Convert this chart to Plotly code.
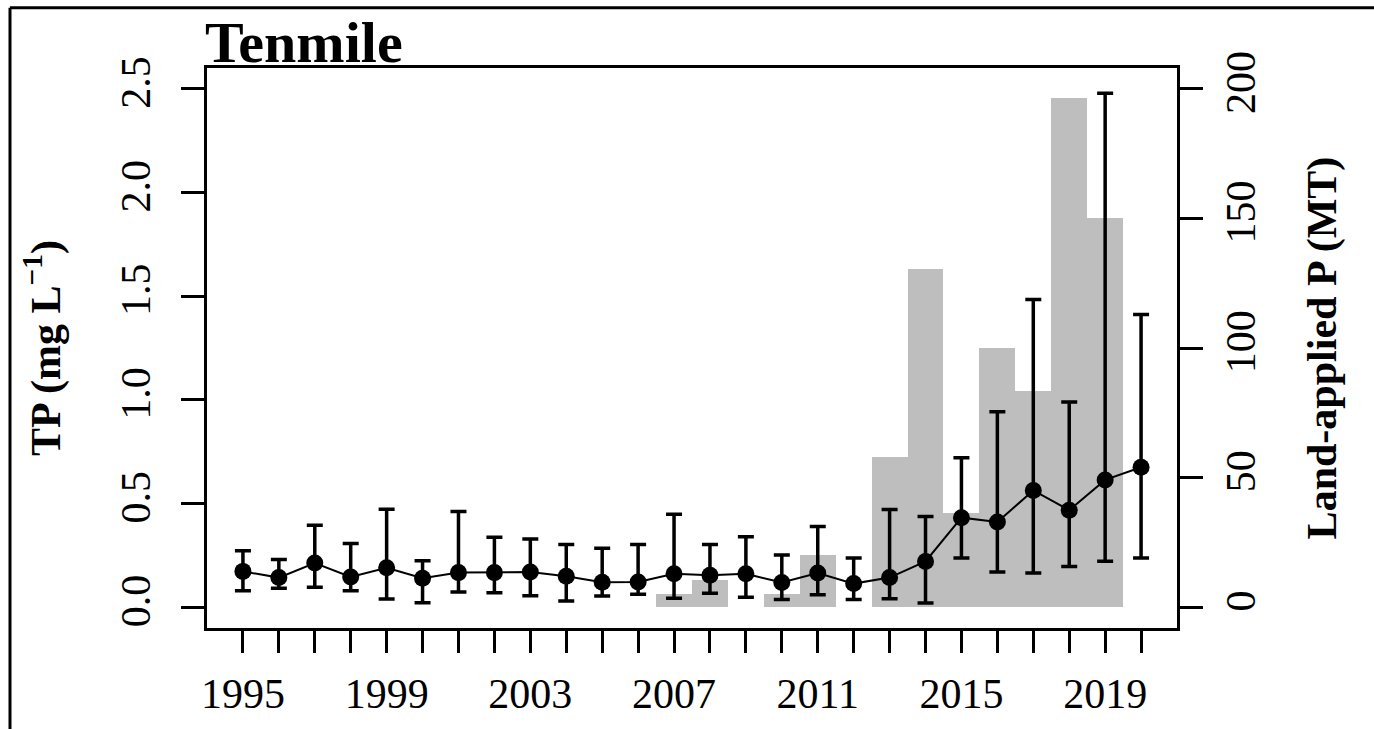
import plotly.graph_objects as go

years = list(range(1995, 2021))
tp_mean = [0.173, 0.143, 0.213, 0.146, 0.190, 0.140, 0.167, 0.167, 0.170, 0.149,
           0.121, 0.122, 0.162, 0.154, 0.162, 0.119, 0.165, 0.114, 0.143, 0.221,
           0.432, 0.411, 0.563, 0.468, 0.614, 0.675]
tp_upper = [0.273, 0.230, 0.395, 0.308, 0.473, 0.224, 0.462, 0.337, 0.329, 0.303,
            0.284, 0.302, 0.448, 0.302, 0.340, 0.252, 0.389, 0.237, 0.471, 0.437,
            0.721, 0.943, 1.484, 0.990, 2.478, 1.411]
tp_lower = [0.079, 0.092, 0.097, 0.079, 0.040, 0.022, 0.073, 0.070, 0.056, 0.030,
            0.054, 0.063, 0.043, 0.067, 0.048, 0.038, 0.060, 0.037, 0.041, 0.021,
            0.238, 0.170, 0.165, 0.197, 0.222, 0.237]
land_p = [0, 0, 0, 0, 0, 0, 0, 0, 0, 0,
          0, 0, 5, 10.5, 0, 5, 20, 0, 58, 130.5,
          36.5, 100, 83.5, 196.5, 150, None]
x_label_years = [1995, 1999, 2003, 2007, 2011, 2015, 2019]
left_ticks = [0.0, 0.5, 1.0, 1.5, 2.0, 2.5]
right_ticks = [0, 50, 100, 150, 200]

FONT = "Liberation Serif"

err_plus = [u - m for u, m in zip(tp_upper, tp_mean)]
err_minus = [m - l for m, l in zip(tp_mean, tp_lower)]

fig = go.Figure()
fig.add_trace(go.Bar(
    x=years, y=land_p, width=1.0, yaxis="y",
    marker=dict(color="#BEBEBE", line=dict(width=0)),
    showlegend=False,
))
fig.add_trace(go.Scatter(
    x=years, y=tp_mean, yaxis="y2", mode="lines+markers",
    line=dict(color="black", width=2),
    marker=dict(color="black", size=17),
    error_y=dict(type="data", symmetric=False, array=err_plus, arrayminus=err_minus,
                 color="black", thickness=3.5, width=8),
    showlegend=False,
))

fig.update_layout(
    width=1374, height=729,
    margin=dict(l=207, r=197, t=68, b=94),
    paper_bgcolor="white", plot_bgcolor="white",
    font=dict(family=FONT, color="black", size=42),
    bargap=0,
    xaxis=dict(
        range=[1994, 2021], tickmode="array", tickvals=x_label_years,
        ticktext=[str(y) for y in x_label_years],
        ticks="outside", ticklen=22, tickwidth=3, tickcolor="black",
        minor=dict(ticks="outside", ticklen=22, tickwidth=3, tickcolor="black",
                   tickmode="array", tickvals=years),
        showline=True, linecolor="black", linewidth=3, mirror=True,
        showgrid=False, zeroline=False,
        tickfont=dict(family=FONT, size=42), ticklabelstandoff=5,
    ),
    yaxis=dict(
        side="right", range=[-8, 208], tickmode="array", tickvals=right_ticks,
        ticktext=[str(v) for v in right_ticks],
        ticks="outside", ticklen=23, tickwidth=3, tickcolor="black",
        showline=True, linecolor="black", linewidth=3,
        showgrid=False, zeroline=False, tickangle=-90,
        tickfont=dict(family=FONT, size=42), ticklabelstandoff=2,
        title=dict(text="<b>Land-applied P (MT)</b>", font=dict(family=FONT, size=42),
                   standoff=44),
    ),
    yaxis2=dict(
        side="left", overlaying="y", range=[-0.1, 2.6], tickmode="array",
        tickvals=left_ticks, ticktext=[f"{v:.1f}" for v in left_ticks],
        ticks="outside", ticklen=23, tickwidth=3, tickcolor="black",
        showline=True, linecolor="black", linewidth=3,
        showgrid=False, zeroline=False, tickangle=-90,
        tickfont=dict(family=FONT, size=42), ticklabelstandoff=14,
        title=dict(text="<b>TP (mg L<sup>\u22121</sup>)</b>", font=dict(family=FONT, size=42),
                   standoff=40),
    ),
    annotations=[dict(
        text="<b>Tenmile</b>", xref="paper", yref="paper", x=0, y=1,
        xanchor="left", yanchor="bottom", showarrow=False, xshift=-4, yshift=-9,
        font=dict(family=FONT, size=58, color="black"),
    )],
    shapes=[
        dict(type="line", xref="paper", yref="paper", x0=-0.2031, x1=1.3, y0=1.1076, y1=1.1076,
             line=dict(color="black", width=3)),
        dict(type="line", xref="paper", yref="paper", x0=-0.2031, x1=-0.2031, y0=1.1076, y1=-0.3,
             line=dict(color="black", width=3)),
    ],
)

fig.write_html("out.html", config={"displayModeBar": False},
               post_script="document.body.style.margin='0';document.body.style.overflow='hidden';")
